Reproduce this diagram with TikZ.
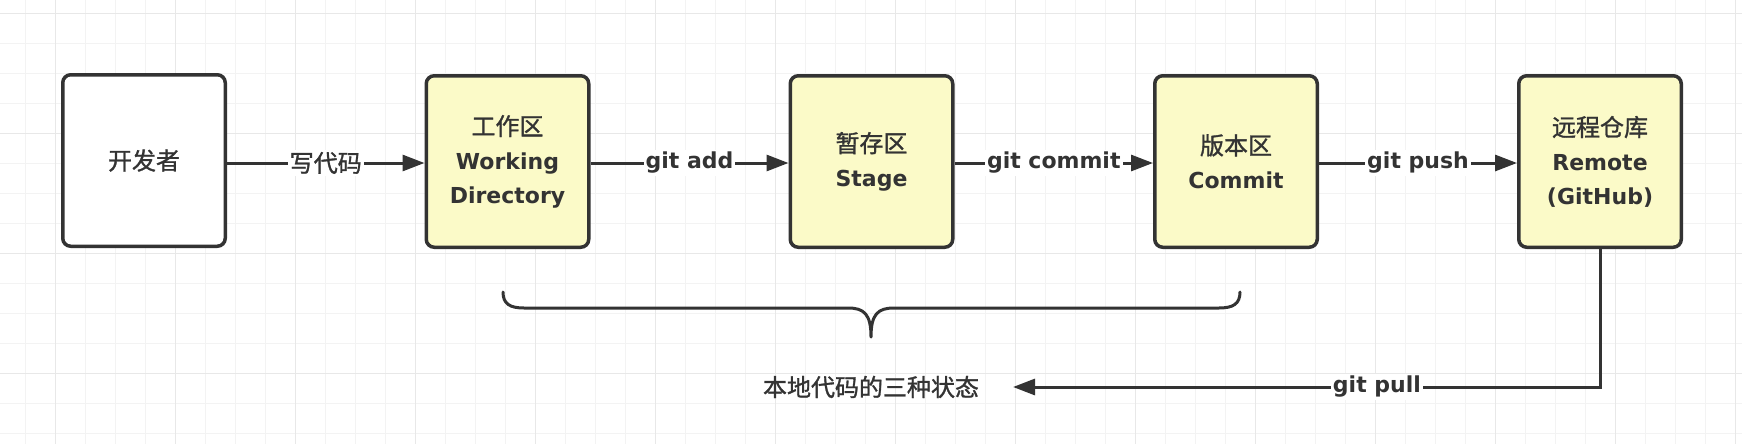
\documentclass[tikz,border=0pt]{standalone}
\usepackage{fontspec}
\setmainfont{DejaVu Sans}
\newfontfamily\cjkfont[FakeBold=1.2]{Noto Sans CJK SC}
\usetikzlibrary{arrows.meta}
\definecolor{ink}{HTML}{333333}
\definecolor{note}{HTML}{FBFAC8}
\definecolor{gridminor}{HTML}{F3F3F3}
\definecolor{gridmajor}{HTML}{E8E8E8}
\newcommand{\zhtxt}[1]{{\cjkfont\mdseries\fontsize{24pt}{34pt}\selectfont #1}}
\begin{document}
\begin{tikzpicture}[x=1pt,y=-1pt,
  box/.style={draw=ink, line width=3.5pt, rounded corners=8pt, minimum width=162.5pt, minimum height=171.5pt, align=center, text=ink, font=\fontsize{22pt}{34pt}\selectfont\bfseries, inner sep=0pt},
  local/.style={box, fill=note},
  flow/.style={draw=ink, line width=3pt, -{Triangle[length=22pt,width=16pt]}},
  lbl/.style={fill=white, text=ink, inner sep=2pt, font=\fontsize{22pt}{33pt}\selectfont\bfseries},
  bracepath/.style={draw=ink, line width=3pt, line cap=round, line join=round},
]
\useasboundingbox (0,0) rectangle (1742,444);
\fill[white] (0,0) rectangle (1742,444);
% grid
\foreach \k [evaluate=\k as \gx using 25.5+30*\k] in {0,...,57} {\draw[gridminor,line width=1.5pt] (\gx,0) -- (\gx,444);}
\foreach \k [evaluate=\k as \gy using 13.3+30*\k] in {0,...,14} {\draw[gridminor,line width=1.5pt] (0,\gy) -- (1742,\gy);}
\foreach \k [evaluate=\k as \gx using 55.5+120*\k] in {0,...,14} {\draw[gridmajor,line width=1.5pt] (\gx,0) -- (\gx,444);}
\foreach \k [evaluate=\k as \gy using 13.3+120*\k] in {0,...,3} {\draw[gridmajor,line width=1.5pt] (0,\gy) -- (1742,\gy);}

% nodes
\node[box, fill=white] (dev) at (144,160.5) {\zhtxt{开发者}};
\node[local] (wd) at (507.5,161.5) {\zhtxt{工作区}\\Working\\Directory};
\node[local] (stage) at (871.5,161.5) {\zhtxt{暂存区}\\Stage};
\node[local] (commit) at (1236,161.5) {\zhtxt{版本区}\\Commit};
\node[local] (remote) at (1600,161.5) {\zhtxt{远程仓库}\\Remote\\(GitHub)};

% arrows
\draw[flow] ([yshift=-2.5pt]dev.east) -- node[lbl]{\zhtxt{写代码}} ([yshift=-1.5pt]wd.west);
\draw[flow] ([yshift=-1.5pt]wd.east) -- node[lbl]{git add} ([yshift=-1.5pt]stage.west);
\draw[flow] ([yshift=-1.5pt]stage.east) -- node[lbl]{git commit} ([yshift=-1.5pt]commit.west);
\draw[flow] ([yshift=-1.5pt]commit.east) -- node[lbl]{git push} ([yshift=-1.5pt]remote.west);

% brace
\draw[bracepath] (503,292) .. controls (503,304) and (510,308) .. (524,308) -- (848,308) .. controls (864,308) and (871,314) .. (871,337) .. controls (871,314) and (878,308) .. (894,308) -- (1219,308) .. controls (1233,308) and (1240,304) .. (1240,292);

% bottom
\node[text=ink, inner sep=0pt] (states) at (871,387) {\zhtxt{本地代码的三种状态}};
\coordinate (pullend) at (1013,387);
\coordinate (pullcorner) at (remote.south |- pullend);
\draw[flow] (remote.south) -- (pullcorner) -- node[lbl,pos=0.38]{git pull} (pullend);
\end{tikzpicture}
\end{document}
